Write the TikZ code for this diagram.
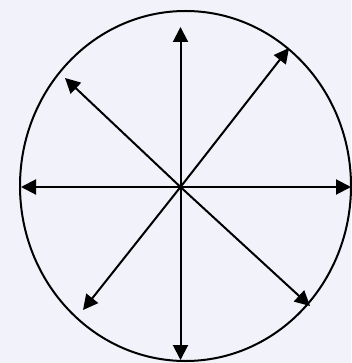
\documentclass[tikz,border=0pt]{standalone}
\usepackage{xcolor}
\usetikzlibrary{arrows.meta}
\definecolor{mybg}{RGB}{242, 242, 250}

\begin{document}
\begin{tikzpicture}[x=1pt,y=-1pt]
\tikzset{spoke/.style={-{Triangle[length=15pt,width=15pt]}, line width=2pt}}

 %background
 \fill[mybg] (0,0) rectangle (351,363);
 \useasboundingbox (0,0) rectangle (351,363);

 %circle
 \draw[line width=2pt] (185.5,186) ellipse [x radius=165.5, y radius=175];

 \coordinate (O) at (180.5,187);
 \coordinate (PN) at (180.5,27);
 \coordinate (PS) at (180.5,360);
 \coordinate (PW) at (21,187);
 \coordinate (PE) at (351,187);
 \coordinate (PNE) at (289,48);
 \coordinate (PNW) at (65,78);
 \coordinate (PSW) at (83,310);
 \coordinate (PSE) at (310,306);

 \foreach \p in {PN,PS,PW,PE,PNE,PNW,PSW,PSE}
   \draw[spoke] (O) -- (\p);

\end{tikzpicture}
\end{document}
